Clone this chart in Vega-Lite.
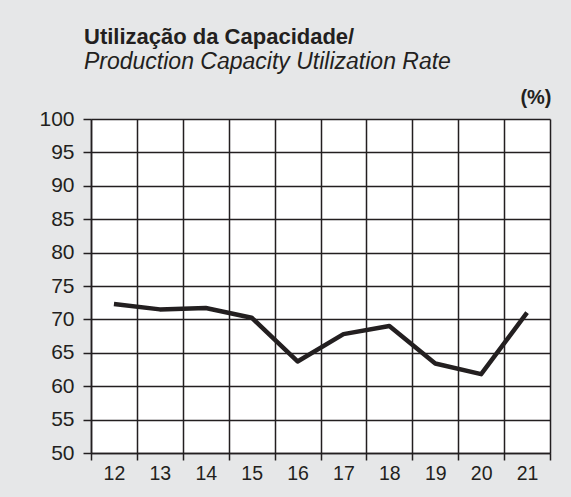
{
  "$schema": "https://vega.github.io/schema/vega-lite/v6.json",
  "width": 459,
  "height": 334,
  "autosize": {"type": "none"},
  "padding": {"left": 91, "top": 119, "right": 21, "bottom": 44},
  "background": "#e6e7e8",
  "title": {
    "text": "Utilização da Capacidade/",
    "subtitle": "Production Capacity Utilization Rate",
    "anchor": "start",
    "frame": "group",
    "dx": -7,
    "offset": 12,
    "font": "Liberation Sans",
    "fontSize": 22,
    "fontWeight": "bold",
    "color": "#231f20",
    "subtitleFont": "Liberation Sans",
    "subtitleFontSize": 23,
    "subtitleFontStyle": "italic",
    "subtitleFontWeight": "normal",
    "subtitleColor": "#231f20",
    "subtitlePadding": 2
  },
  "data": {
    "values": [
      {"year": "12", "rate": 72.3},
      {"year": "13", "rate": 71.5},
      {"year": "14", "rate": 71.7},
      {"year": "15", "rate": 70.25},
      {"year": "16", "rate": 63.7},
      {"year": "17", "rate": 67.8},
      {"year": "18", "rate": 69.0},
      {"year": "19", "rate": 63.4},
      {"year": "20", "rate": 61.8},
      {"year": "21", "rate": 71.0}
    ]
  },
  "mark": {"type": "line", "color": "#231f20", "strokeWidth": 4.5, "strokeJoin": "round", "strokeCap": "butt"},
  "encoding": {
    "x": {
      "field": "year",
      "type": "ordinal",
      "bandPosition": 0.5,
      "scale": {"type": "band", "paddingInner": 0, "paddingOuter": 0},
      "axis": {
        "title": null,
        "labelAngle": 0,
        "tickBand": "extent",
        "grid": true,
        "gridColor": "#231f20",
        "gridWidth": 1.5,
        "gridOpacity": 1,
        "domainColor": "#231f20",
        "domainWidth": 1.5,
        "tickColor": "#231f20",
        "tickWidth": 1.5,
        "tickSize": 7,
        "labelFont": "Liberation Sans",
        "labelFontSize": 19.5,
        "labelColor": "#231f20",
        "labelPadding": 4
      }
    },
    "y": {
      "field": "rate",
      "type": "quantitative",
      "scale": {"domain": [50, 100], "nice": false, "zero": false},
      "axis": {
        "values": [50, 55, 60, 65, 70, 75, 80, 85, 90, 95, 100],
        "grid": true,
        "gridColor": "#231f20",
        "gridWidth": 1.5,
        "gridOpacity": 1,
        "domainColor": "#231f20",
        "domainWidth": 1.5,
        "tickColor": "#231f20",
        "tickWidth": 1.5,
        "tickSize": 8,
        "labelFont": "Liberation Sans",
        "labelFontSize": 21,
        "labelColor": "#231f20",
        "labelPadding": 9,
        "title": "(%)",
        "titleAngle": 0,
        "titleAlign": "right",
        "titleBaseline": "alphabetic",
        "titleX": 460,
        "titleY": -16,
        "titleFont": "Liberation Sans",
        "titleFontSize": 20,
        "titleFontWeight": "bold",
        "titleColor": "#231f20"
      }
    }
  },
  "config": {"view": {"fill": "white", "stroke": null}}
}
